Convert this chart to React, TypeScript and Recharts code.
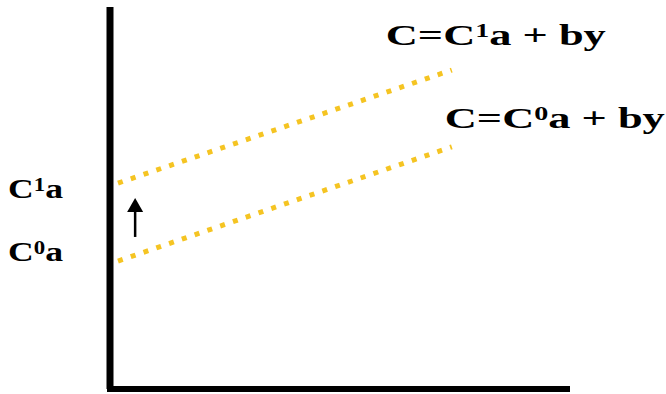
import { Line, LineChart, ReferenceLine, XAxis, YAxis } from "recharts";

// two end points of each consumption line (x in %, y in %)
const xPoints = [1.75, 74.8];
const upperLine = [53.9, 83.5];
const lowerLine = [33.5, 63.4];

// intercept labels on the vertical axis
const interceptTicks = [36.1, 52.6];
const interceptBase = ["C", "C"];
const interceptSup = ["0", "1"];

// arrow showing the upward shift
const arrowX = 5.5;
const arrowFrom = 39.8;
const arrowTo = 50;

const YELLOW = "#F5C422";
const FONT = "Liberation Serif";

const data = xPoints.map((x, i) => ({
  x,
  upper: upperLine[i],
  lower: lowerLine[i],
}));

function Formula({
  x,
  y,
  sup,
  width,
}: {
  x: number;
  y: number;
  sup: string;
  width: number;
}) {
  return (
    <text
      x={x}
      y={y}
      fontFamily={FONT}
      fontWeight="bold"
      fontSize={30}
      fill="#000"
      textLength={width}
      lengthAdjust="spacingAndGlyphs"
    >
      <tspan>C=C</tspan>
      <tspan fontSize={19} dy={-8}>
        {sup}
      </tspan>
      <tspan dy={8}>{"a + by"}</tspan>
    </text>
  );
}

function endLabel(sup: string, dx: number, dy: number) {
  return (props: any) => {
    if (props.index !== xPoints.length - 1) return null;
    return (
      <Formula
        key={"lbl-" + sup}
        x={props.x + dx}
        y={props.y + dy}
        sup={sup}
        width={220}
      />
    );
  };
}

function InterceptTick(props: any) {
  const i = interceptTicks.indexOf(props.payload.value);
  if (i < 0) return null;
  return (
    <text
      x={8}
      y={props.y + 10}
      fontFamily={FONT}
      fontWeight="bold"
      fontSize={28}
      fill="#000"
      textLength={55}
      lengthAdjust="spacingAndGlyphs"
    >
      <tspan>{interceptBase[i]}</tspan>
      <tspan fontSize={18} dy={-7}>
        {interceptSup[i]}
      </tspan>
      <tspan dy={7}>a</tspan>
    </text>
  );
}

function Arrow(props: any) {
  const { x1, y1, x2, y2 } = props;
  const head = 14;
  return (
    <g>
      <line
        x1={x1}
        y1={y1}
        x2={x2}
        y2={y2 + head - 1}
        stroke="#000"
        strokeWidth={2.5}
      />
      <polygon
        points={`${x2},${y2} ${x2 - 8},${y2 + head} ${x2 + 8},${y2 + head}`}
        fill="#000"
      />
    </g>
  );
}

export default function App() {
  return (
    <div style={{ position: "absolute", left: 0, top: 0, background: "#fff" }}>
      <LineChart
        width={666}
        height={394}
        data={data}
        margin={{ top: 7, right: 99, bottom: 4, left: 109 }}
      >
        <XAxis
          type="number"
          dataKey="x"
          domain={[0, 100]}
          tick={false}
          tickLine={false}
          height={1}
          axisLine={{ stroke: "#000", strokeWidth: 6, strokeLinecap: "square" }}
        />
        <YAxis
          type="number"
          domain={[0, 100]}
          ticks={interceptTicks}
          tick={<InterceptTick />}
          tickLine={false}
          width={1}
          axisLine={{ stroke: "#000", strokeWidth: 7 }}
        />
        <Line
          type="linear"
          dataKey="upper"
          stroke={YELLOW}
          strokeWidth={5}
          strokeDasharray="5 8.5"
          dot={false}
          label={endLabel("1", -66, -25)}
          isAnimationActive={false}
        />
        <Line
          type="linear"
          dataKey="lower"
          stroke={YELLOW}
          strokeWidth={5}
          strokeDasharray="5 8.5"
          dot={false}
          label={endLabel("0", -7, -19)}
          isAnimationActive={false}
        />
        <ReferenceLine
          segment={[
            { x: arrowX, y: arrowFrom },
            { x: arrowX, y: arrowTo },
          ]}
          shape={<Arrow />}
        />
      </LineChart>
    </div>
  );
}
